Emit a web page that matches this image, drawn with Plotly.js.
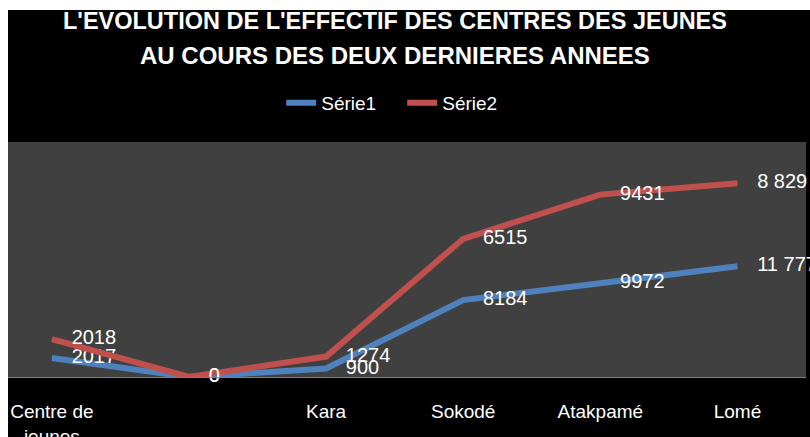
<!DOCTYPE html>
<html>
<head>
<meta charset="utf-8">
<script src="https://cdn.plot.ly/plotly-3.0.1.min.js"></script>
<style>
  html, body { margin: 0; padding: 0; background: #ffffff; overflow: hidden; }
  #chart { position: absolute; left: 8px; top: 10px; width: 802px; height: 427px; }
</style>
</head>
<body>
<div id="chart"></div>
<script>
// ---- data ----
const categories = ["Centre de<br>jeunes", "", "Kara", "Sokodé", "Atakpamé", "Lomé"];
const serie1 = [2017, 0, 900, 8184, 9972, 11777];
const serie2 = [2018, 0, 1274, 6515, 9431, 8829];
const serie1Labels = ["2017", "0", "900", "8184", "9972", "11 777"];
const serie2Labels = ["2018", "0", "1274", "6515", "9431", "8 829"];
const seriesNames = ["Série1", "Série2"];
const titleLine1 = "L'EVOLUTION DE L'EFFECTIF DES CENTRES DES JEUNES";
const titleLine2 = "AU COURS DES DEUX DERNIERES ANNEES";

const xIdx = categories.map((_, i) => i);
const FONT = "'Liberation Sans', Arial, sans-serif";

function lineTrace(name, values, labels, color) {
  return {
    type: "scatter",
    mode: "lines+markers+text",
    name: name,
    x: xIdx,
    y: values,
    stackgroup: "stack",
    fill: "none",
    line: { color: color, width: 6 },
    marker: { size: 30, color: "rgba(0,0,0,0)" },
    text: labels,
    textposition: "middle right",
    textfont: { family: FONT, size: 20, color: "#ffffff" },
    cliponaxis: false,
    hoverinfo: "x+y"
  };
}

const data = [
  lineTrace(seriesNames[0], serie1, serie1Labels, "#4F81BD"),
  lineTrace(seriesNames[1], serie2, serie2Labels, "#C0504D")
];

const layout = {
  width: 802,
  height: 427,
  margin: { l: 0, r: 4, t: 132, b: 60 },
  paper_bgcolor: "#000000",
  plot_bgcolor: "#404040",
  font: { family: FONT, color: "#ffffff" },
  title: {
    text: "<b>" + titleLine1 + "</b>",
    xref: "container", x: 0.4825, xanchor: "center",
    yref: "container", y: 1 - 11 / 427, yanchor: "middle",
    font: { family: FONT, size: 23.5, color: "#ffffff" }
  },
  annotations: [{
    text: "<b>" + titleLine2 + "</b>",
    xref: "paper", x: 0.485, xanchor: "center",
    yref: "paper", y: 1.368, yanchor: "middle",
    showarrow: false,
    font: { family: FONT, size: 24, color: "#ffffff" }
  }],
  showlegend: true,
  legend: {
    orientation: "h",
    x: 0.494, xanchor: "center",
    y: 1.166, yanchor: "middle",
    entrywidth: 76,
    entrywidthmode: "pixels",
    font: { family: FONT, size: 19, color: "#ffffff" },
    bgcolor: "rgba(0,0,0,0)"
  },
  xaxis: {
    range: [-0.32, 5.5],
    tickmode: "array",
    tickvals: xIdx,
    ticktext: categories,
    showgrid: false,
    zeroline: false,
    showline: true,
    linecolor: "#7f7f7f",
    linewidth: 1,
    ticks: "",
    ticklabelstandoff: 17,
    tickfont: { family: FONT, size: 19, color: "#ffffff" },
    fixedrange: true
  },
  yaxis: {
    range: [0, 25000],
    visible: false,
    showgrid: false,
    zeroline: false,
    fixedrange: true
  }
};

Plotly.newPlot("chart", data, layout, { displayModeBar: false, staticPlot: true });
</script>
</body>
</html>
